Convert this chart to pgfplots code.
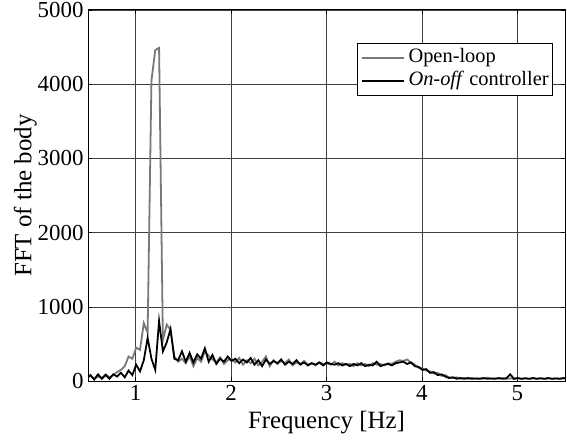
\documentclass[border=0pt]{standalone}
\usepackage{pgfplots}
\pgfplotsset{compat=1.18}
\usepackage{pgfplotstable}
\usepackage{fontspec}
\setmainfont{Liberation Serif}
\pgfplotstableread{
f gray black
0.485 40 30
0.525 70 80
0.565 30 20
0.605 60 90
0.645 40 30
0.685 90 80
0.725 50 30
0.765 80 90
0.805 120 60
0.845 150 110
0.885 200 50
0.925 330 140
0.965 300 80
1.005 450 220
1.045 420 130
1.085 780 280
1.125 650 580
1.165 4050 300
1.205 4460 150
1.245 4490 810
1.285 550 400
1.325 760 520
1.365 690 700
1.405 330 300
1.445 260 280
1.485 300 400
1.525 240 260
1.565 330 380
1.605 200 250
1.645 310 360
1.685 260 300
1.725 400 440
1.765 340 260
1.805 290 350
1.845 250 230
1.885 320 300
1.925 230 260
1.965 280 330
2.005 300 270
2.045 250 300
2.085 310 240
2.125 220 290
2.165 280 250
2.205 240 310
2.245 300 220
2.285 210 280
2.325 260 200
2.365 330 290
2.405 200 230
2.445 280 270
2.485 230 240
2.525 270 290
2.565 240 220
2.605 290 260
2.645 210 230
2.685 250 280
2.725 230 220
2.765 270 250
2.805 220 210
2.845 240 240
2.885 210 220
2.925 250 250
2.965 230 210
3.005 240 250
3.045 220 230
3.085 260 220
3.125 210 240
3.165 240 210
3.205 220 230
3.245 230 200
3.285 200 230
3.325 240 210
3.365 210 240
3.405 230 200
3.445 200 220
3.485 240 210
3.525 220 260
3.565 230 200
3.605 210 220
3.645 240 230
3.685 230 210
3.725 260 240
3.765 280 250
3.805 270 260
3.845 290 230
3.885 250 250
3.925 220 200
3.965 180 190
4.005 170 150
4.045 140 160
4.085 130 110
4.125 100 120
4.165 110 80
4.205 70 90
4.245 80 60
4.285 50 40
4.325 40 50
4.365 50 30
4.405 30 40
4.445 40 30
4.485 30 40
4.525 40 30
4.565 30 35
4.605 35 30
4.645 30 40
4.685 45 30
4.725 30 35
4.765 35 30
4.805 30 40
4.845 40 30
4.885 30 35
4.925 35 90
4.965 30 30
5.005 35 40
5.045 30 30
5.085 40 35
5.125 30 30
5.165 35 40
5.205 30 30
5.245 40 35
5.285 30 30
5.325 35 40
5.365 30 30
5.405 35 35
5.445 30 30
5.485 35 40
5.525 30 30
}\datatable
\definecolor{olgray}{RGB}{120,120,120}
\begin{document}
\begin{tikzpicture}
\begin{axis}[
  scale only axis,
  width=477bp, height=371bp,
  xmin=0.5, xmax=5.5, ymin=0, ymax=5000,
  xtick={1,2,3,4,5}, ytick={0,1000,2000,3000,4000,5000},
  tick align=inside,
  tick style={black, line width=0.6pt},
  major tick length=4bp,
  grid=major,
  grid style={black!75, line width=0.5pt},
  axis line style={black, line width=1pt},
  /pgf/number format/assume math mode=true,
  /pgf/number format/set thousands separator={},
  ticklabel style={font=\fontsize{23}{25}\selectfont},
  xticklabel style={yshift=-1bp},
  yticklabel style={xshift=-1bp},
  xlabel={Frequency [Hz]},
  ylabel={FFT of the body},
  label style={font=\fontsize{25}{28}\selectfont},
  xlabel style={yshift=-3bp},
  ylabel style={yshift=-6bp},
  legend style={at={(0.975,0.911)}, anchor=north east, draw=black, line width=0.8pt,
    font=\fontsize{20.5}{24}\selectfont, inner sep=3pt, row sep=0pt,
    nodes={text height=15bp, text depth=6bp, inner sep=1pt},
    legend cell align=left},
  legend image code/.code={\draw[#1, line width=2pt] (6bp,0cm) -- (48bp,0cm); \path (51bp,0cm);},
  clip=true,
]
\addplot[olgray, line width=1.8pt] table[x=f, y=gray] {\datatable};
\addlegendentry{Open-loop}
\addplot[black, line width=1.8pt] table[x=f, y=black] {\datatable};
\addlegendentry{\textit{On-off} controller}
\end{axis}
\pgfresetboundingbox
\path (current axis.south west) ++(-88bp,-58bp) coordinate (bbA);
\path (current axis.north east) ++(2bp,10bp) coordinate (bbB);
\useasboundingbox (bbA) rectangle (bbB);
\end{tikzpicture}
\end{document}
